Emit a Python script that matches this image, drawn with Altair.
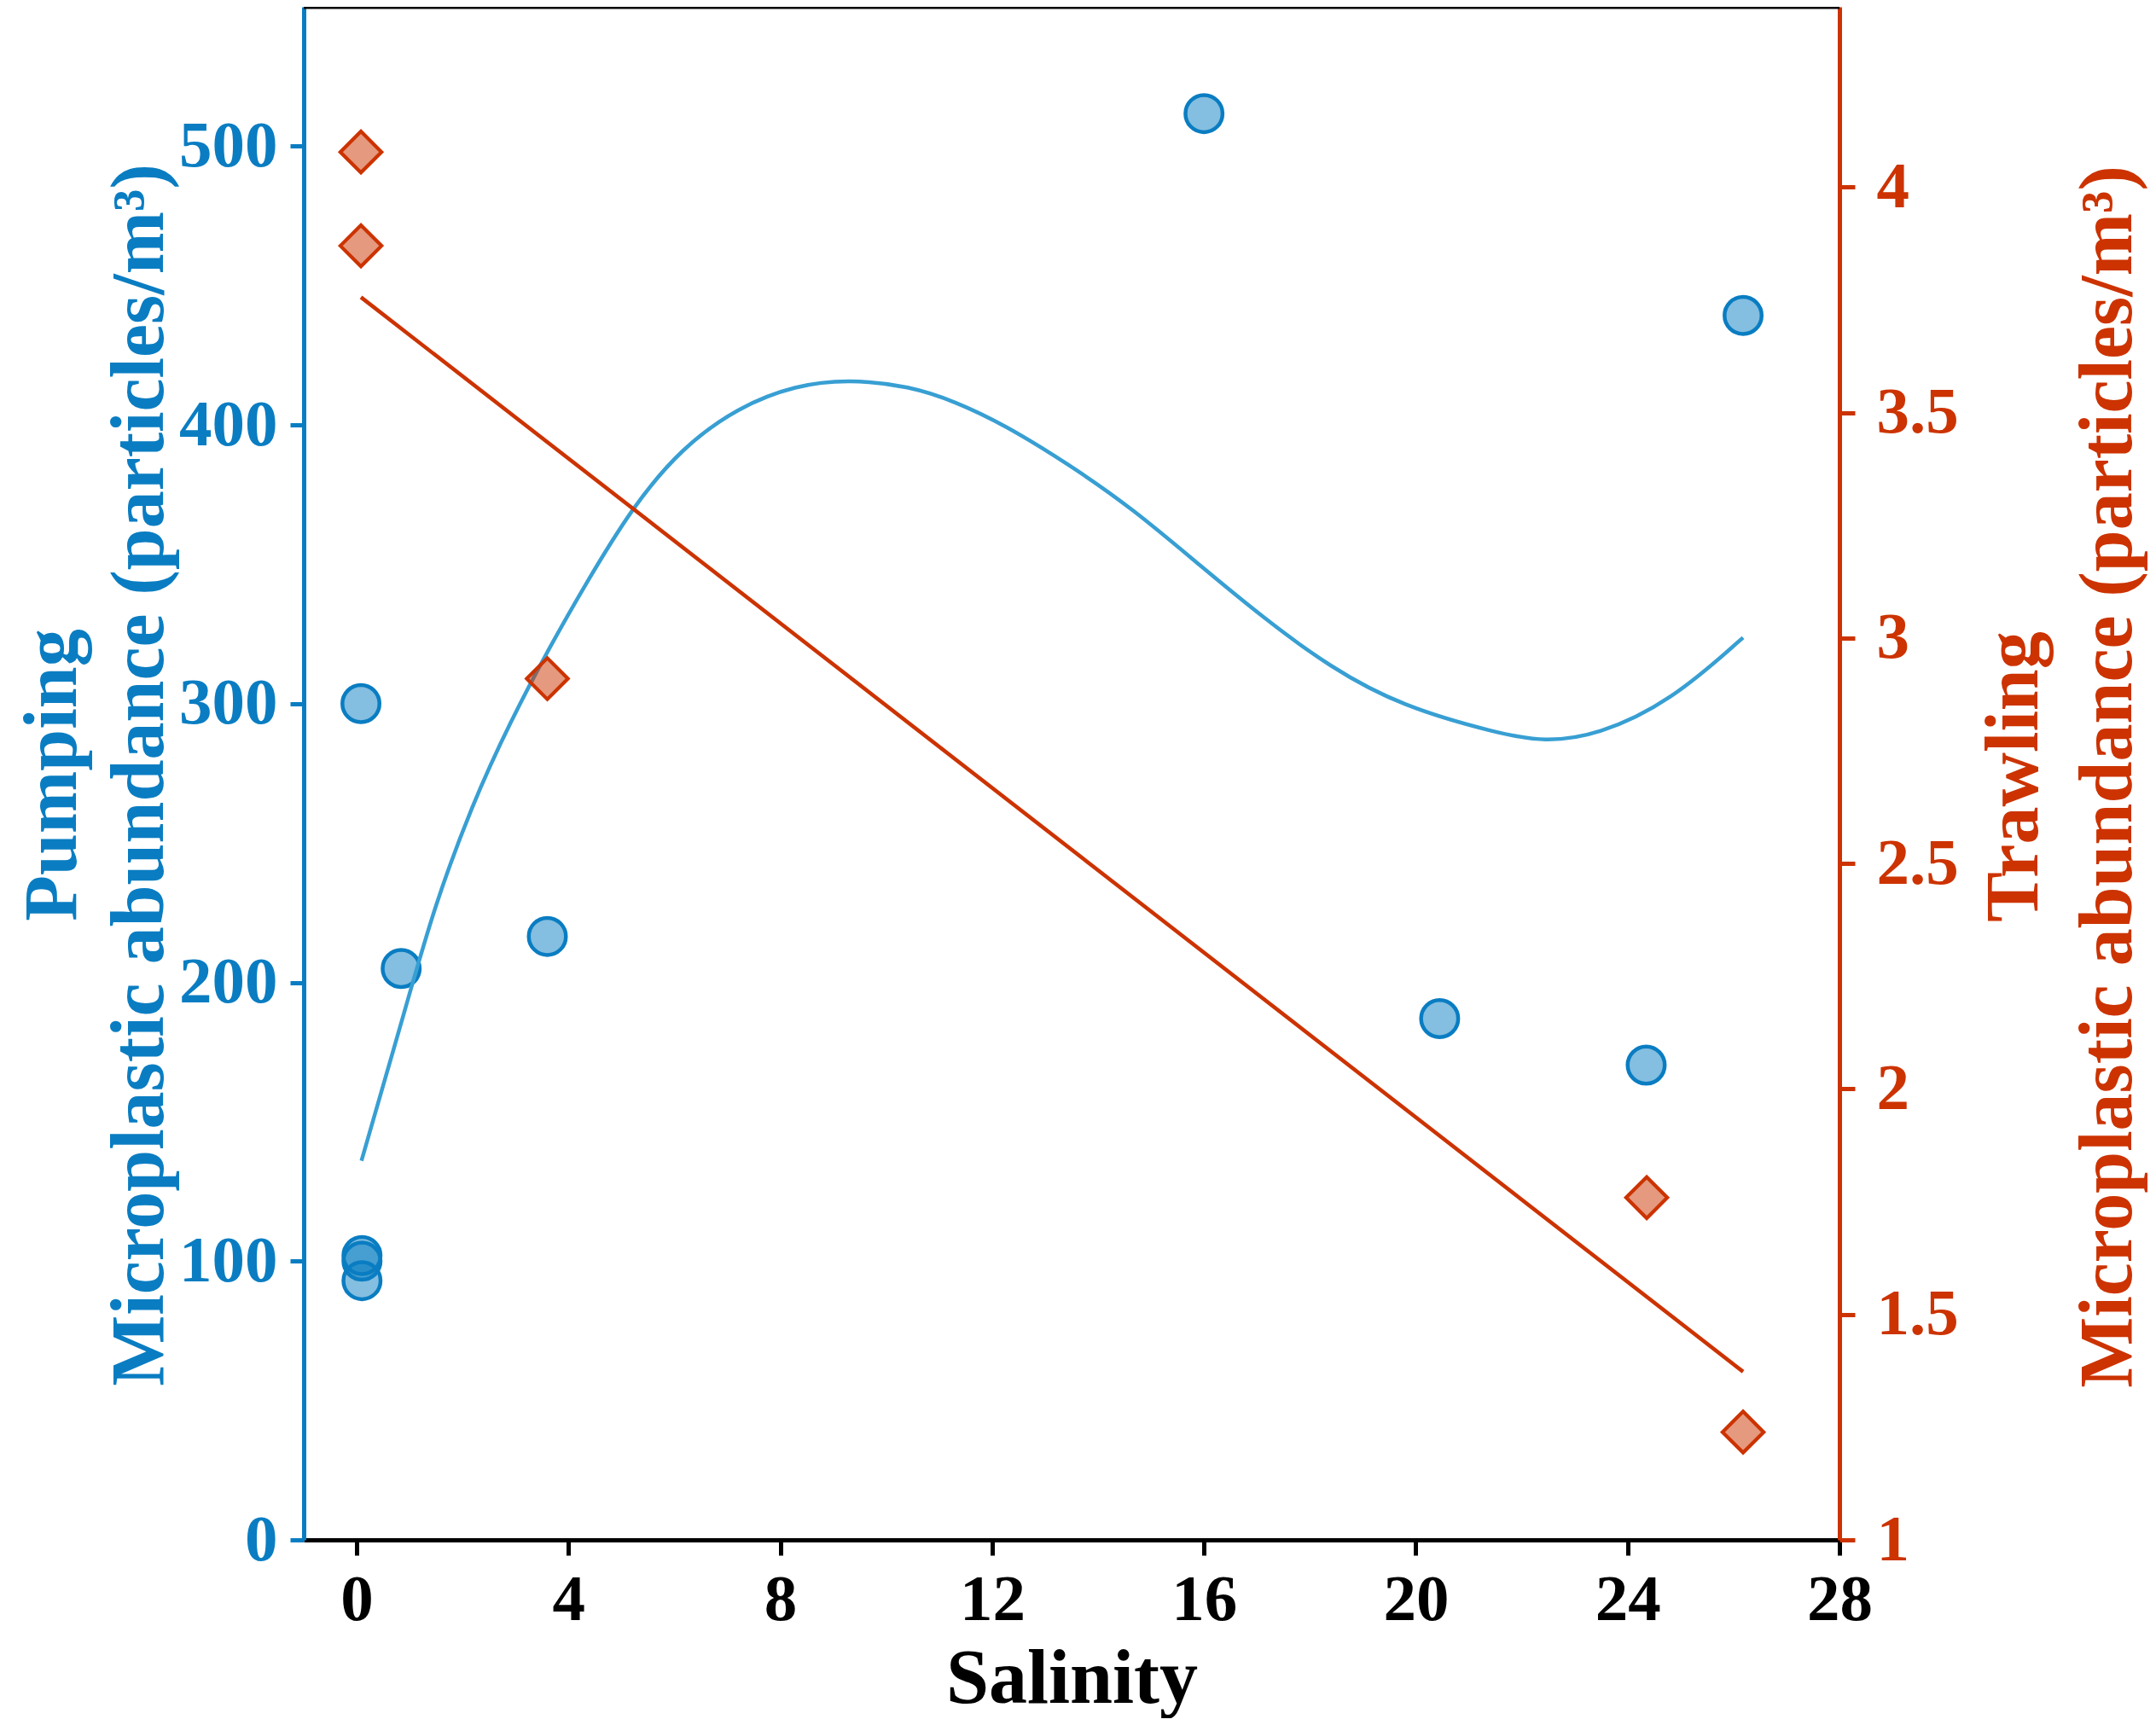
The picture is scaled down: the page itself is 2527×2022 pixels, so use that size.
import altair as alt
import pandas as pd

# ---- data ----
pump_salinity = [0.08, 0.1, 0.1, 0.1, 0.84, 3.6, 16.0, 20.45, 24.35, 26.18]
pump_abund = [300, 102, 100, 93, 205, 216.5, 511.7, 187, 170.3, 439.3]

trawl_salinity = [0.08, 0.08, 3.6, 24.36, 26.18]
trawl_abund = [4.078, 3.870, 2.91, 1.759, 1.239]

# fitted curves
pump_fit_s = [0.09, 0.99, 1.46, 2.18, 2.90, 3.62, 4.34, 5.20, 6.13, 7.21, 8.29, 9.30,
              10.45, 11.30, 12.21, 13.44, 14.67, 15.91, 17.14, 18.37, 19.73, 21.58,
              22.42, 23.43, 24.82, 26.18]
pump_fit_v = [136, 195.3, 226.8, 263.9, 293.5, 319.5, 343.5, 370.4, 391.7, 406.5, 414.3, 416.4,
              413.9, 408.4, 400.3, 386.0, 369.7, 349.8, 330.5, 313.2, 299.0, 289.2,
              286.3, 288.6, 300.9, 323.7]

trawl_fit_s = [0.08, 26.18]
trawl_fit_v = [3.756, 1.373]

x_ticks = [0, 4, 8, 12, 16, 20, 24, 28]
left_ticks = [0, 100, 200, 300, 400, 500]
right_ticks = [1, 1.5, 2, 2.5, 3, 3.5, 4]

BLUE = "#0a7dc2"
BLUE_LINE = "#389fd3"
RED = "#cc3300"
FONT = "Liberation Serif"

W, H = 1800, 1797
LABEL_SIZE = 77
TITLE_SIZE = 90
YTITLE_SIZE = 88

pump_df = pd.DataFrame({"s": pump_salinity, "v": pump_abund})
pump_fit_df = pd.DataFrame({"s": pump_fit_s, "v": pump_fit_v})
trawl_df = pd.DataFrame({"s": trawl_salinity, "t": trawl_abund})
trawl_fit_df = pd.DataFrame({"s": trawl_fit_s, "t": trawl_fit_v})

x_axis = alt.Axis(
    values=x_ticks, format="d", title="Salinity", grid=False,
    domainColor="black", domainWidth=5, tickColor="black", tickWidth=5, tickSize=18,
    labelFont=FONT, labelFontWeight="bold", labelFontSize=LABEL_SIZE, labelColor="black",
    labelPadding=14, labelFlush=False, labelOverlap=False,
    titleFont=FONT, titleFontWeight="bold", titleFontSize=TITLE_SIZE, titleColor="black",
    titleBaseline="alphabetic", titleY=190,
)
x_enc = alt.X("s:Q", scale=alt.Scale(domain=[-1, 28], nice=False, zero=False), axis=x_axis)

left_axis = alt.Axis(
    orient="left", values=left_ticks, format="d", grid=False,
    title=["Pumping", "Microplastic abundance (particles/m³)"],
    domainColor=BLUE, domainWidth=5, tickColor=BLUE, tickWidth=5, tickSize=16,
    labelFont=FONT, labelFontWeight="bold", labelFontSize=LABEL_SIZE, labelColor=BLUE,
    labelPadding=15, labelFlush=False, labelOverlap=False,
    titleFont=FONT, titleFontWeight="bold", titleFontSize=YTITLE_SIZE, titleColor=BLUE,
    titleAngle=270, titleAlign="center", titleBaseline="alphabetic",
    titleLineHeight=102, titleX=-268, titleY=900,
)
left_enc = alt.Y("v:Q", scale=alt.Scale(domain=[0, 550], nice=False, zero=False), axis=left_axis)

right_axis = alt.Axis(
    orient="right", values=right_ticks, format="~g", grid=False,
    title=["Trawling", "Microplastic abundance (particles/m³)"],
    domainColor=RED, domainWidth=5, tickColor=RED, tickWidth=5, tickSize=18,
    labelFont=FONT, labelFontWeight="bold", labelFontSize=LABEL_SIZE, labelColor=RED,
    labelPadding=25, labelFlush=False, labelOverlap=False,
    titleFont=FONT, titleFontWeight="bold", titleFontSize=YTITLE_SIZE, titleColor=RED,
    titleAngle=270, titleAlign="center", titleBaseline="alphabetic",
    titleLineHeight=110, titleX=231, titleY=902,
)
right_enc = alt.Y("t:Q", scale=alt.Scale(domain=[1, 4.4], nice=False, zero=False), axis=right_axis)

pump_pts = alt.Chart(pump_df).mark_point(
    shape="circle", filled=True, size=1890, fill=BLUE, fillOpacity=0.5,
    stroke=BLUE, strokeOpacity=1, strokeWidth=4.5, opacity=1,
).encode(x=x_enc, y=left_enc)

pump_curve = alt.Chart(pump_fit_df).mark_line(
    color=BLUE_LINE, strokeWidth=4.5, interpolate="basis",
).encode(x=x_enc, y=left_enc)

trawl_pts = alt.Chart(trawl_df).mark_point(
    shape="diamond", filled=True, size=2330, fill=RED, fillOpacity=0.5,
    stroke=RED, strokeOpacity=1, strokeWidth=4.2, opacity=1,
).encode(x=x_enc, y=right_enc)

trawl_line = alt.Chart(trawl_fit_df).mark_line(
    color=RED, strokeWidth=4.5,
).encode(x=x_enc, y=right_enc)

top_border = alt.Chart(pd.DataFrame({"k": [0]})).mark_rule(
    color="black", strokeWidth=5,
).encode(x=alt.datum(-1), x2=alt.datum(28), y=alt.value(0))

blue = alt.layer(pump_pts, pump_curve)
red = alt.layer(trawl_pts, trawl_line)

chart = alt.layer(blue, red, top_border).resolve_scale(y="independent").properties(
    width=W, height=H,
    autosize=alt.AutoSizeParams(type="none"),
    padding={"left": 348, "top": 0, "right": 363, "bottom": 209},
).configure_view(stroke=None).configure(background="white")

chart.save("out.html", embed_options={"renderer": "svg", "actions": False})
